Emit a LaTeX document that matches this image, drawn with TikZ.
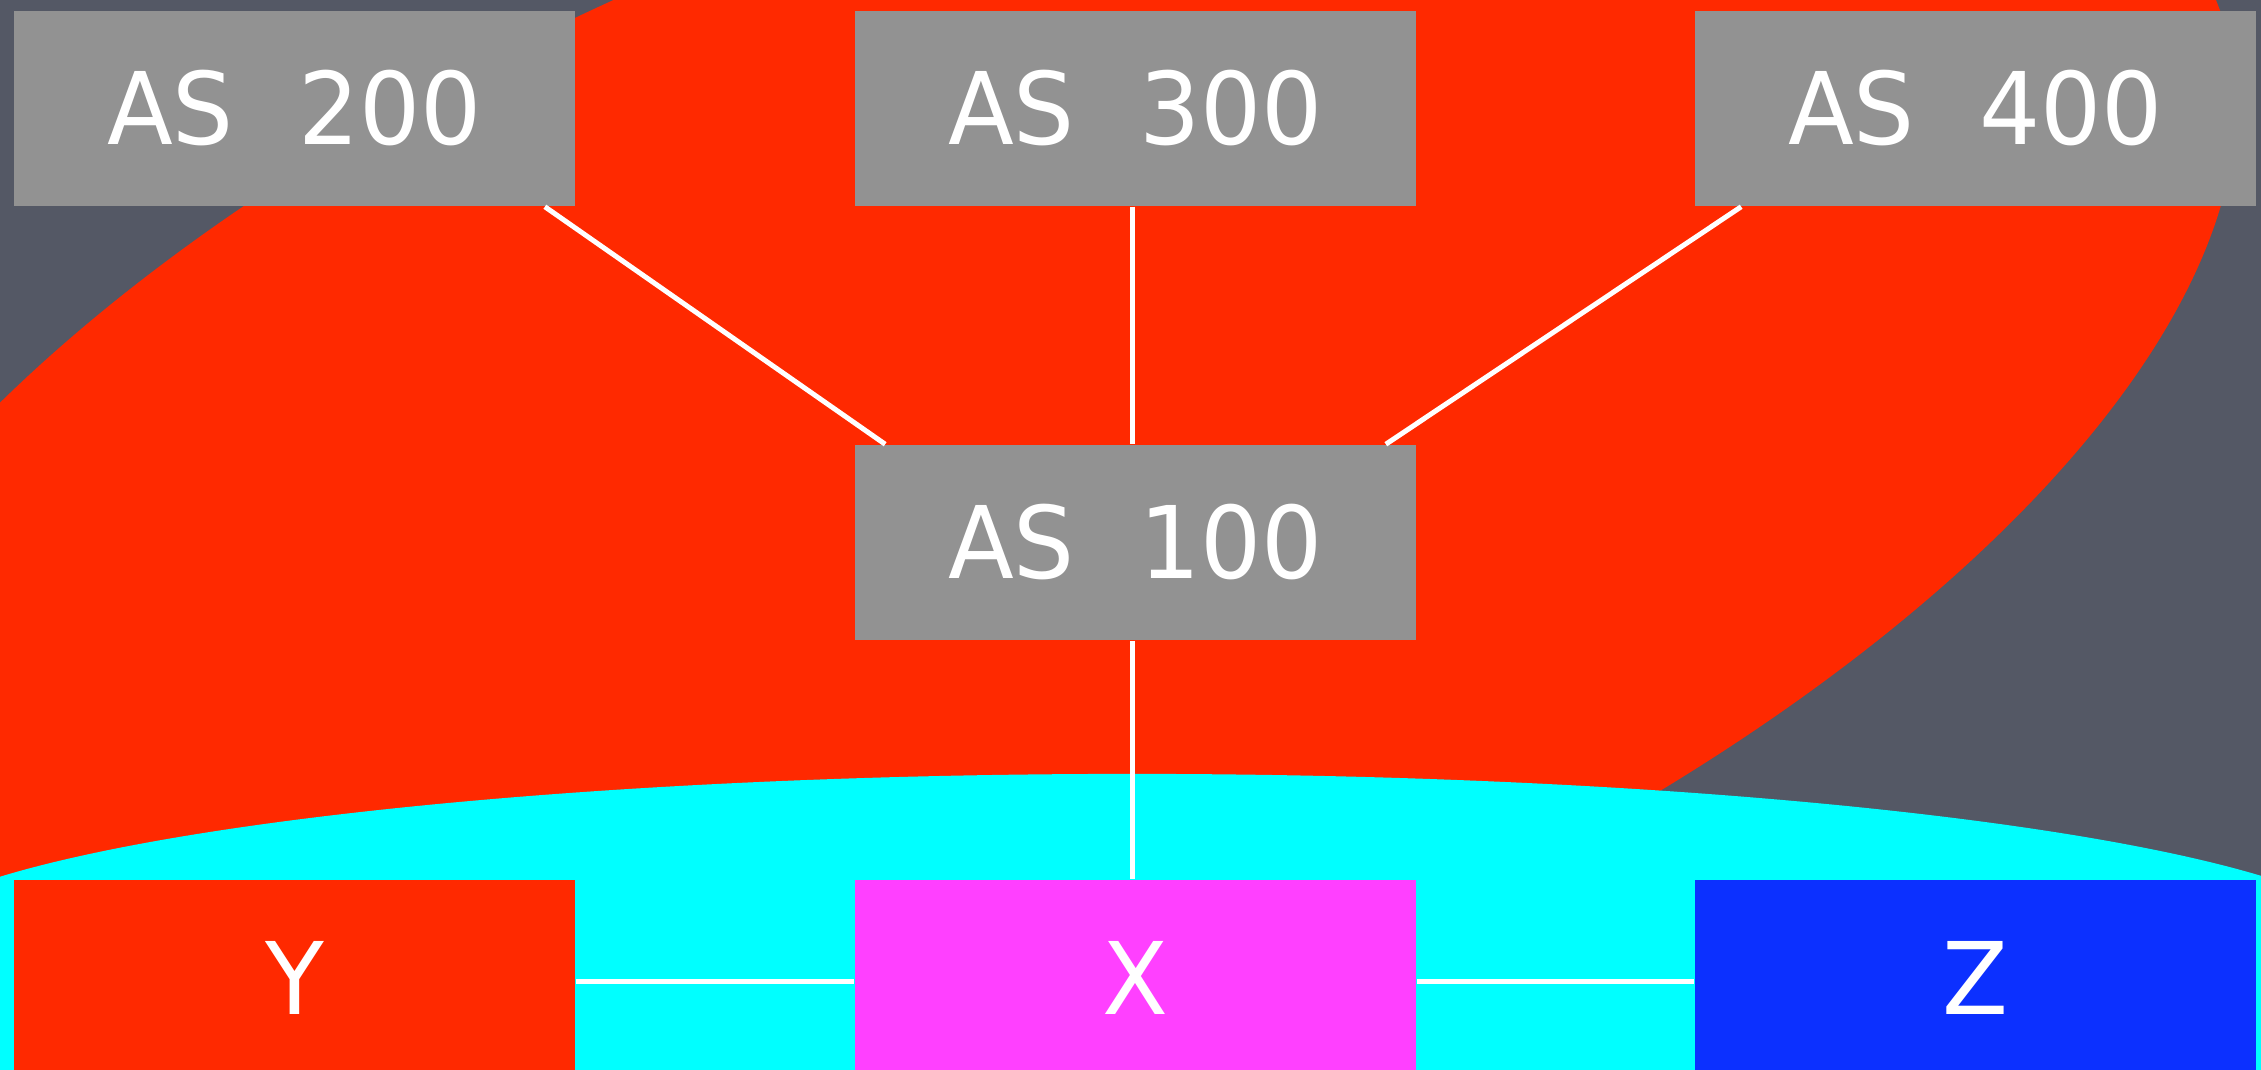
\documentclass[tikz,border=0pt]{standalone}
\usepackage{fontspec}
\setmainfont{DejaVu Sans}
\newfontfamily\boxfont{DejaVu Sans}[WordSpace=2.1,FakeStretch=0.96]
\definecolor{bg}{RGB}{84,88,101}
\definecolor{redfill}{RGB}{255,41,0}
\definecolor{cyanfill}{RGB}{0,255,255}
\definecolor{boxgray}{RGB}{146,146,146}
\definecolor{xmag}{RGB}{255,64,255}
\definecolor{zblue}{RGB}{12,48,255}
\begin{document}
\begin{tikzpicture}[x=0.01cm,y=0.01cm,
  asbox/.style={fill=boxgray,text=white,minimum width=5.61cm,minimum height=1.95cm,inner sep=0pt,font=\boxfont\fontsize{28.5}{34}\selectfont},
  link/.style={white,line width=0.05cm}]
\useasboundingbox (0,0) rectangle (2261,1070);
\clip (0,0) rectangle (2261,1070);
\fill[bg] (0,0) rectangle (2261,1070);
\fill[redfill,rotate around={20.65:(1001,603)}] (1001,603) ellipse [x radius=13.01cm,y radius=5.80cm];
\fill[cyanfill] (1132,117) ellipse [x radius=12.50cm,y radius=1.79cm];
\fill[cyanfill] (-200,-50) rectangle (2461,117);
\node[asbox] (a200) at (294.5,961.5) {AS 200};
\node[asbox] (a300) at (1135.5,961.5) {AS 300};
\node[asbox] (a400) at (1975.5,961.5) {AS 400};
\node[asbox] (a100) at (1135.5,527.5) {AS 100};
\node[asbox,fill=redfill] (ny) at (294.5,92.5) {Y};
\node[asbox,fill=xmag] (nx) at (1135.5,92.5) {X};
\node[asbox,fill=zblue] (nz) at (1975.5,92.5) {Z};
\draw[link] ([xshift=-0.31cm]a200.south east) -- ([xshift=0.31cm]a100.north west);
\draw[link] ([xshift=-0.035cm]a300.south) -- ([xshift=-0.035cm]a100.north);
\draw[link] ([xshift=0.47cm]a400.south west) -- ([xshift=-0.31cm]a100.north east);
\draw[link] ([xshift=-0.035cm]a100.south) -- ([xshift=-0.035cm]nx.north);
\draw[link] ([yshift=-0.04cm]ny.east) -- ([yshift=-0.04cm]nx.west);
\draw[link] ([yshift=-0.04cm]nx.east) -- ([yshift=-0.04cm]nz.west);
\end{tikzpicture}
\end{document}
